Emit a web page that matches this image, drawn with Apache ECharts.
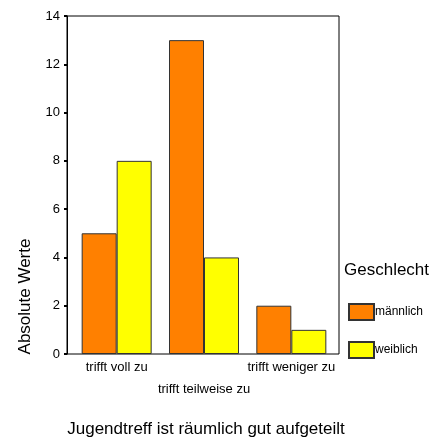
<!DOCTYPE html>
<html><head><meta charset="utf-8">
<script src="https://cdn.jsdelivr.net/npm/echarts@6/dist/echarts.min.js"></script>
<style>html,body{margin:0;padding:0;background:#fff}#c{width:437px;height:442px}</style>
</head><body><div id="c"></div>
<script>
const categories = ['trifft voll zu', 'trifft teilweise zu', 'trifft weniger zu'];
const seriesNames = ['männlich', 'weiblich'];
const maleValues = [5, 13, 2];
const femaleValues = [8, 4, 1];
const yTicks = [0, 2, 4, 6, 8, 10, 12, 14];
const xTitle = 'Jugendtreff ist räumlich gut aufgeteilt';
const yTitle = 'Absolute Werte';
const legendTitle = 'Geschlecht';

const font = 'Liberation Sans';
const chart = echarts.init(document.getElementById('c'));
chart.setOption({
  animation: false,
  title: [
    { text: xTitle, left: 206, top: 421, textAlign: 'center', padding: 0,
      textStyle: { fontSize: 17, fontWeight: 'normal', color: '#000', fontFamily: font } },
    { text: legendTitle, left: 344, top: 262, padding: 0,
      textStyle: { fontSize: 17, fontWeight: 'normal', color: '#000', fontFamily: font } }
  ],
  legend: {
    orient: 'vertical', left: 348, top: 303, padding: 0, itemWidth: 25, itemHeight: 16, itemGap: 20,
    icon: 'rect',
    data: seriesNames,
    textStyle: { fontSize: 12, color: '#000', fontFamily: font, padding: [0, 0, 0, -4] }
  },
  grid: [
    { left: 73, width: 262, top: 16, bottom: 88 },
    { left: 67, width: 272, top: 16, bottom: 88, show: true, borderColor: '#000', borderWidth: 1, backgroundColor: 'transparent' },
    { left: 67, width: 10, top: 240, height: 113 }
  ],
  xAxis: [
    { type: 'category', data: categories, gridIndex: 0,
      axisLine: { show: false },
      axisTick: { alignWithLabel: true, length: 3, lineStyle: { color: '#000', width: 1 } },
      axisLabel: { fontSize: 13, color: '#000', fontFamily: font, interval: 0, margin: 2, lineHeight: 22,
        formatter: (v, i) => (i % 2 ? '\n' + v : v) } },
    { type: 'value', gridIndex: 1, show: false, min: 0, max: 1 },
    { type: 'value', gridIndex: 2, show: false, min: 0, max: 1 }
  ],
  yAxis: [
    { type: 'value', gridIndex: 0, min: yTicks[0], max: yTicks[yTicks.length - 1], interval: 2, offset: 6,
      splitLine: { show: false },
      axisLine: { show: true, lineStyle: { color: '#000' } },
      axisTick: { show: true, length: 3, lineStyle: { color: '#000', width: 2 } },
      axisLabel: { fontSize: 13, color: '#000', fontFamily: font, margin: 7 } },
    { type: 'value', gridIndex: 1, show: false, min: 0, max: 1 },
    { type: 'value', gridIndex: 2, min: 0, max: 1,
      name: yTitle, nameLocation: 'middle', nameGap: 33,
      nameTextStyle: { fontSize: 17, color: '#000', fontFamily: font },
      axisLine: { show: false }, axisTick: { show: false }, axisLabel: { show: false }, splitLine: { show: false } }
  ],
  series: [
    { name: seriesNames[0], type: 'bar', data: maleValues, barWidth: 35, barGap: '0%',
      itemStyle: { color: '#FF8000', borderColor: '#333', borderWidth: 1 } },
    { name: seriesNames[1], type: 'bar', data: femaleValues, barWidth: 35, barGap: '0%',
      itemStyle: { color: '#FFFF00', borderColor: '#333', borderWidth: 1 } }
  ]
});
</script></body></html>
